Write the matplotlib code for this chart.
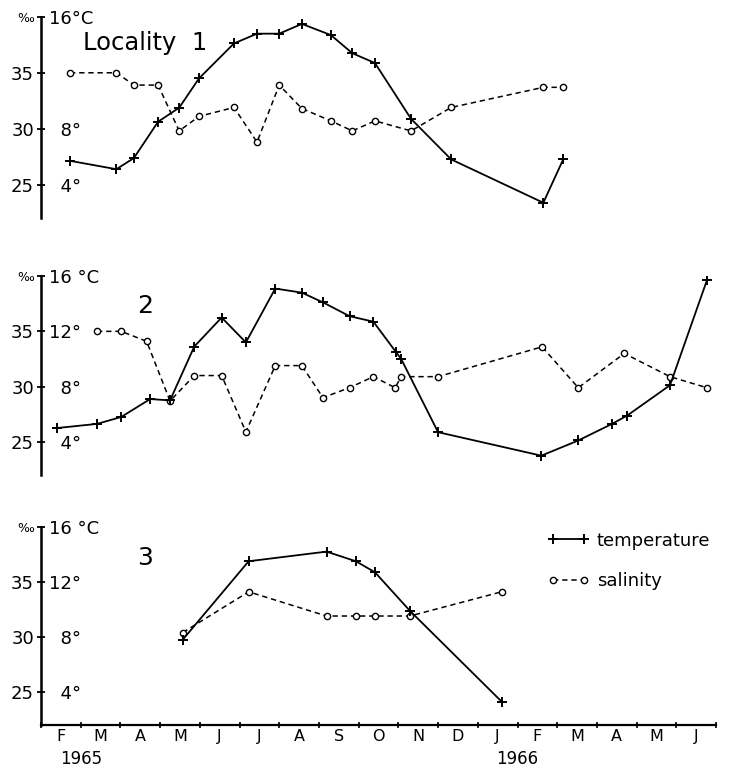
import numpy as np
import matplotlib.pyplot as plt
from matplotlib import transforms

# sampling dates, in months counted from 1 Feb 1965
loc1_x = [0.73, 1.9, 2.34, 2.95, 3.48, 3.98, 4.86, 5.44, 6.0, 6.57, 7.3, 7.84, 8.41, 9.32, 10.33, 12.65, 13.15]
loc1_sal = [35.0, 35.0, 33.9, 33.9, 29.8, 31.1, 31.9, 28.8, 33.9, 31.8, 30.7, 29.8, 30.7, 29.8, 31.9, 33.7, 33.7]
loc1_temp = [5.7, 5.1, 5.9, 8.5, 9.5, 11.6, 14.1, 14.8, 14.8, 15.5, 14.7, 13.4, 12.7, 8.7, 5.8, 2.7, 5.8]

loc2_sal_x = [1.41, 2.02, 2.66, 3.25, 3.86, 4.55, 5.16, 5.9, 6.57, 7.1, 7.77, 8.37, 8.92, 9.07, 10.0,
              12.62, 13.53, 14.69, 15.84, 16.77]
loc2_sal = [35.0, 35.0, 34.1, 28.7, 31.0, 31.0, 25.9, 31.9, 31.9, 29.0, 29.9, 30.9, 29.9, 30.9, 30.9,
            33.6, 29.9, 33.0, 30.9, 29.9]
loc2_temp_x = [0.4, 1.41, 2.02, 2.75, 3.25, 3.86, 4.55, 5.16, 5.9, 6.57, 7.1, 7.77, 8.37, 8.94, 9.07, 10.0,
               12.6, 13.53, 14.38, 14.76, 15.84, 16.77]
loc2_temp = [5.0, 5.3, 5.8, 7.1, 7.0, 10.9, 13.0, 11.2, 15.1, 14.8, 14.1, 13.1, 12.7, 10.5, 10.0, 4.7,
             3.0, 4.1, 5.3, 5.9, 8.1, 15.7]

loc3_x = [3.57, 5.23, 7.19, 7.93, 8.41, 9.29, 11.6]
loc3_sal = [30.4, 34.1, 31.9, 31.9, 31.9, 31.9, 34.1]
loc3_temp = [7.8, 13.5, 14.2, 13.5, 12.7, 9.9, 3.3]

months = ['F', 'M', 'A', 'M', 'J', 'J', 'A', 'S', 'O', 'N', 'D', 'J', 'F', 'M', 'A', 'M', 'J']
years = ['1965', '1966']

sal_ticks = [25, 30, 35, 40]
sal_labels = ['25', '30', '35', '\u2030']


def sal_to_temp(s):
    # the two scales on the left axis: 25 = 4 deg, 40 = 16 deg
    return (s - 20) / 1.25


panels = [
    dict(rect=[0.0556, 0.716, 0.916, 0.262], title='Locality  1', tsize=17.5, tpos=(1.05, 37.7),
         sx=loc1_x, s=loc1_sal, tx=loc1_x, t=loc1_temp,
         tticks=[4, 8, 16], tlabels=['\u20074\u00b0', '\u20078\u00b0', '16\u00b0C']),
    dict(rect=[0.0556, 0.3815, 0.916, 0.259], title='2', tsize=18, tpos=(2.42, 37.3),
         sx=loc2_sal_x, s=loc2_sal, tx=loc2_temp_x, t=loc2_temp,
         tticks=[4, 8, 12, 16], tlabels=['\u20074\u00b0', '\u20078\u00b0', '12\u00b0', '16 \u00b0C']),
    dict(rect=[0.0556, 0.056, 0.916, 0.258], title='3', tsize=18, tpos=(2.42, 37.2),
         sx=loc3_x, s=loc3_sal, tx=loc3_x, t=loc3_temp,
         tticks=[4, 8, 12, 16], tlabels=['\u20074\u00b0', '\u20078\u00b0', '12\u00b0', '16 \u00b0C']),
]

fig = plt.figure(figsize=(7.37, 7.68), dpi=100)

for i, p in enumerate(panels):
    ax = fig.add_axes(p['rect'])
    ax.set_xlim(0, len(months))
    ax.set_ylim(22, 40)
    for side in ['top', 'right', 'bottom']:
        ax.spines[side].set_visible(False)
    ax.spines['left'].set_linewidth(1.8)

    ax.set_yticks(sal_ticks)
    ax.set_yticklabels(sal_labels)
    ax.tick_params(axis='y', direction='inout', length=6, width=1.3, pad=2, labelsize=13)
    ax.get_yticklabels()[-1].set_fontsize(9)

    # temperature scale written on the right of the same spine
    tw = ax.twinx()
    tw.set_ylim(sal_to_temp(22), sal_to_temp(40))
    for side in ['top', 'left', 'bottom', 'right']:
        tw.spines[side].set_visible(False)
    tw.spines['right'].set_position(('axes', 0))
    tw.set_yticks(p['tticks'])
    tw.set_yticklabels(p['tlabels'])
    tw.tick_params(axis='y', length=0, pad=6, labelsize=13)

    sal_line, = ax.plot(p['sx'], p['s'], color='k', lw=1.1, ls=(0, (3.5, 2.5)),
                        marker='o', ms=4.5, mfc='white', mec='k', mew=1.0, label='salinity')
    temp_line, = tw.plot(p['tx'], p['t'], color='k', lw=1.3, marker='+', ms=6.5, mew=1.4,
                         label='temperature')

    ax.text(p['tpos'][0], p['tpos'][1], p['title'], fontsize=p['tsize'], va='center', ha='left')

    if i < 2:
        ax.tick_params(axis='x', bottom=False, labelbottom=False)
    else:
        ax.spines['bottom'].set_visible(True)
        ax.spines['bottom'].set_linewidth(1.6)
        ax.set_xticks(np.arange(len(months) + 1))
        ax.set_xticklabels([])
        ax.set_xticks(np.arange(len(months)) + 0.5, minor=True)
        ax.set_xticklabels(months, minor=True)
        ax.tick_params(axis='x', which='major', direction='inout', length=5, width=1.2)
        ax.tick_params(axis='x', which='minor', length=0, pad=3, labelsize=11.5)
        trans = transforms.blended_transform_factory(ax.transData, ax.transAxes)
        ax.text(1, -0.17, years[0], transform=trans, ha='center', va='center', fontsize=12)
        ax.text(12, -0.17, years[1], transform=trans, ha='center', va='center', fontsize=12)

        tw.legend(handles=[temp_line, sal_line], loc='upper left', bbox_to_anchor=(0.751, 0.975),
                  frameon=False, fontsize=13, numpoints=2, handlelength=2.3, handletextpad=0.4,
                  labelspacing=1.25, borderpad=0, borderaxespad=0)

fig.savefig('out.png', dpi=100, facecolor='white')
